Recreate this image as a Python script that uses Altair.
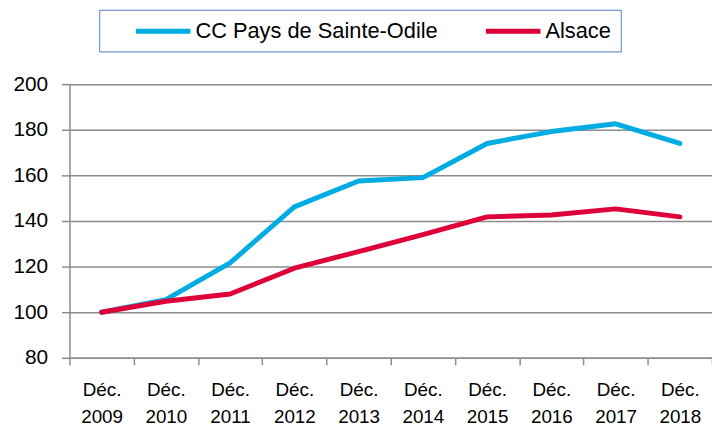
import altair as alt
import pandas as pd

years = ["Déc. 2009", "Déc. 2010", "Déc. 2011", "Déc. 2012", "Déc. 2013",
         "Déc. 2014", "Déc. 2015", "Déc. 2016", "Déc. 2017", "Déc. 2018"]
cc_values = [100, 105.5, 121.6, 146.2, 157.5, 159.0, 174.0, 179.2, 182.6, 174.0]
alsace_values = [100, 104.8, 108.0, 119.3, 126.6, 134.0, 141.8, 142.6, 145.3, 141.8]
series = ["CC Pays de Sainte-Odile", "Alsace"]
colors = ["#00ACE2", "#DE0039"]
y_ticks = [80, 100, 120, 140, 160, 180, 200]

rows = []
for name, vals in zip(series, [cc_values, alsace_values]):
    for y, v in zip(years, vals):
        rows.append({"year": y, "value": v, "series": name})
df = pd.DataFrame(rows)

FONT = "Liberation Sans"
GRID = "#8C8C8C"

chart = alt.Chart(df).mark_line(strokeWidth=5, strokeCap="round", strokeJoin="round").encode(
    x=alt.X("year:N", sort=years, title=None,
            scale=alt.Scale(paddingInner=0, paddingOuter=0),
            axis=alt.Axis(labelAngle=0, labelExpr="split(datum.label, ' ')",
                          tickBand="extent", tickSize=7, tickColor=GRID,
                          domainColor=GRID, domainWidth=1.5, tickWidth=1.5,
                          labelFont=FONT, labelFontSize=19, labelColor="#000000",
                          labelPadding=16, labelLineHeight=27, grid=False)),
    y=alt.Y("value:Q", title=None,
            scale=alt.Scale(domain=[80, 200], nice=False, zero=False),
            axis=alt.Axis(values=y_ticks, tickSize=8, tickColor=GRID, tickWidth=1.5,
                          domainColor=GRID, domainWidth=1.5,
                          gridColor=GRID, gridWidth=1.5,
                          labelFont=FONT, labelFontSize=21, labelColor="#000000",
                          labelPadding=14)),
    color=alt.Color("series:N", sort=series,
                    scale=alt.Scale(domain=series, range=colors),
                    legend=alt.Legend(title=None, orient="none", direction="horizontal",
                                      legendX=30, legendY=-75,
                                      symbolType="M-2.75,0H8.0",
                                      symbolDash=[55, 2000],
                                      symbolSize=400,
                                      symbolStrokeWidth=5,
                                      symbolOffset=43,
                                      labelFont=FONT, labelFontSize=22, labelColor="#000000",
                                      strokeColor="#4F81BD", padding=9,
                                      columnPadding=20, labelOffset=20,
                                      labelLimit=400)),
).properties(
    width=648, height=276,
    padding={"left": 62, "top": 75, "right": 0, "bottom": 70},
    autosize=alt.AutoSizeParams(type="none"),
).configure_view(stroke=None)

chart.save("out.html", embed_options={"renderer": "svg", "actions": False})
